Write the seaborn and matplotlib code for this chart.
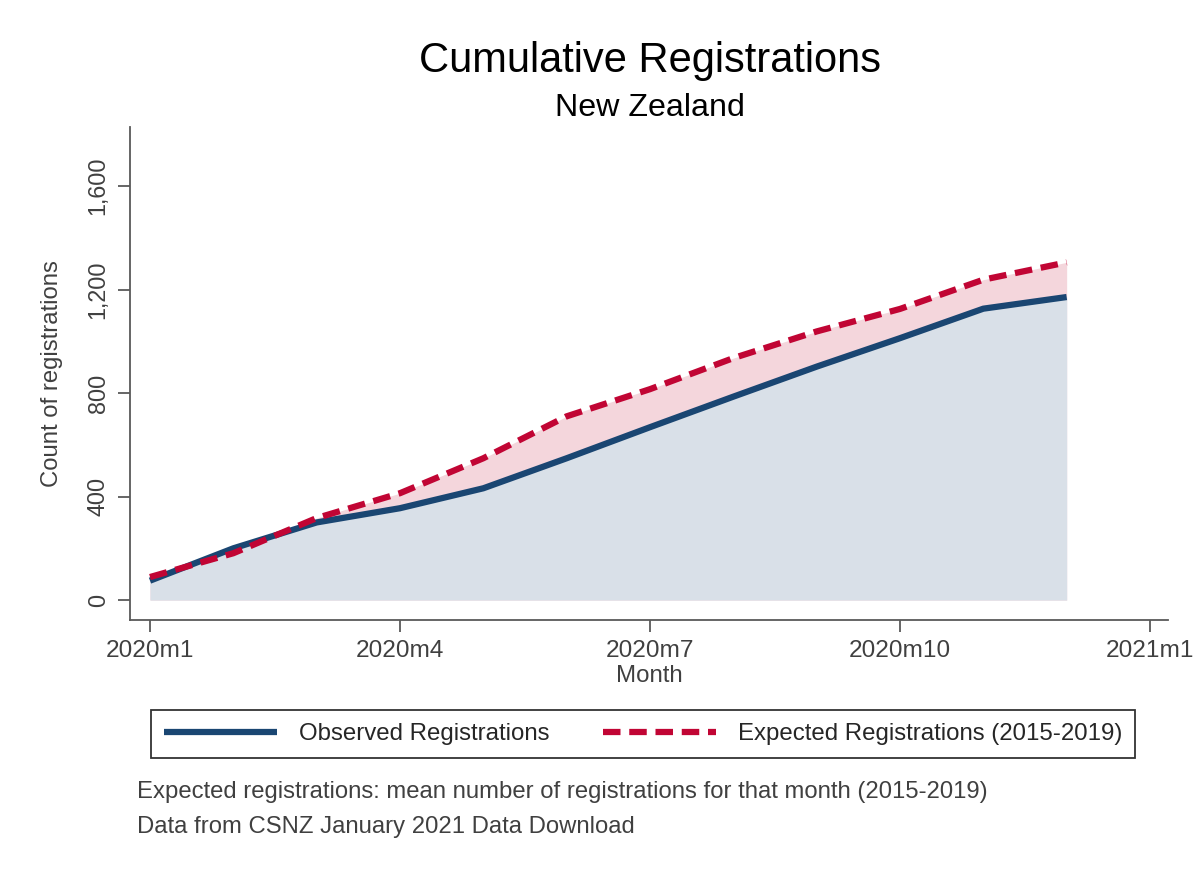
import numpy as np
import pandas as pd
import matplotlib
matplotlib.use("Agg")
import matplotlib.pyplot as plt
import seaborn as sns

# months 2020m1 .. 2020m12 as 1..12
month = [1, 2, 3, 4, 5, 6, 7, 8, 9, 10, 11, 12]
observed = [75, 200, 300, 355, 432, 548, 668, 786, 902, 1012, 1126, 1171]
expected = [89, 181, 317, 413, 548, 710, 815, 935, 1038, 1125, 1238, 1305]
tick_pos = [1, 4, 7, 10, 13]
tick_labels = ["2020m1", "2020m4", "2020m7", "2020m10", "2021m1"]
ytick_pos = [0, 400, 800, 1200, 1600]

NAVY = "#1a4672"
RED = "#c10534"
GRAY = "#595959"
TXT = "#404040"

sns.set_theme(style="white")
plt.rcParams["font.family"] = ["Liberation Sans", "DejaVu Sans"]

df = pd.DataFrame({"month": month, "observed": observed, "expected": expected})

fig = plt.figure(figsize=(12, 8.73), dpi=100)
ax = fig.add_axes([130 / 1200, 1 - 620 / 873, (1168 - 130) / 1200, (620 - 127) / 873])

# shaded areas (expected first, observed on top)
ax.fill_between(df["month"], 0, df["expected"], color="#f4d6dc", lw=0)
ax.fill_between(df["month"], 0, df["observed"], color="#d9e0e8", lw=0)

sns.lineplot(data=df, x="month", y="observed", ax=ax, color=NAVY, lw=4.5,
             label="Observed Registrations", solid_capstyle="butt")
sns.lineplot(data=df, x="month", y="expected", ax=ax, color=RED, lw=4.5,
             label="Expected Registrations (2015-2019)", dashes=False)
line = ax.get_lines()[-1]
line.set_dashes([2.8, 1.4])
line.set_dash_capstyle("butt")

ax.set_xlim(0.76, 13.216)
ax.set_ylim(-77, 1828)
ax.set_xticks(tick_pos)
ax.set_xticklabels(tick_labels)
ax.set_yticks(ytick_pos)
ax.set_yticklabels([f"{v:,}" for v in ytick_pos], rotation=90, va="center")

for s in ["top", "right"]:
    ax.spines[s].set_visible(False)
for s in ["left", "bottom"]:
    ax.spines[s].set_color(GRAY)
    ax.spines[s].set_linewidth(1.3)
ax.tick_params(axis="both", direction="out", length=8.6, width=1.3, color=GRAY,
               labelcolor=TXT, pad=6, bottom=True, left=True)
ax.tick_params(axis="x", labelsize=17.6)
ax.tick_params(axis="y", labelsize=16.8)

ax.set_xlabel("Month", fontsize=17.3, color=TXT, labelpad=2)
ax.set_ylabel("Count of registrations", fontsize=17.2, color=TXT, labelpad=17)

ax.get_legend().remove()
handles, labels = ax.get_legend_handles_labels()
leg = fig.legend(handles, labels, ncol=2, loc="center", bbox_to_anchor=(643 / 1200, 1 - 734 / 873),
                 fontsize=17.3, frameon=True, fancybox=False, handlelength=4.7,
                 columnspacing=2.25, handletextpad=0.9, borderpad=0.55, borderaxespad=0)
leg.get_frame().set_edgecolor("black")
leg.get_frame().set_linewidth(1.3)

fig.text(650 / 1200, 1 - 61 / 873, "Cumulative Registrations", fontsize=30, ha="center", va="center", color="black")
fig.text(650 / 1200, 1 - 108 / 873, "New Zealand", fontsize=23.2, ha="center", va="center", color="black")
fig.text(137 / 1200, 1 - 792 / 873, "Expected registrations: mean number of registrations for that month (2015-2019)",
         fontsize=17.2, ha="left", va="center", color=TXT)
fig.text(137 / 1200, 1 - 827 / 873, "Data from CSNZ January 2021 Data Download",
         fontsize=17.2, ha="left", va="center", color=TXT)

fig.savefig("out.png", dpi=100, facecolor="white")
